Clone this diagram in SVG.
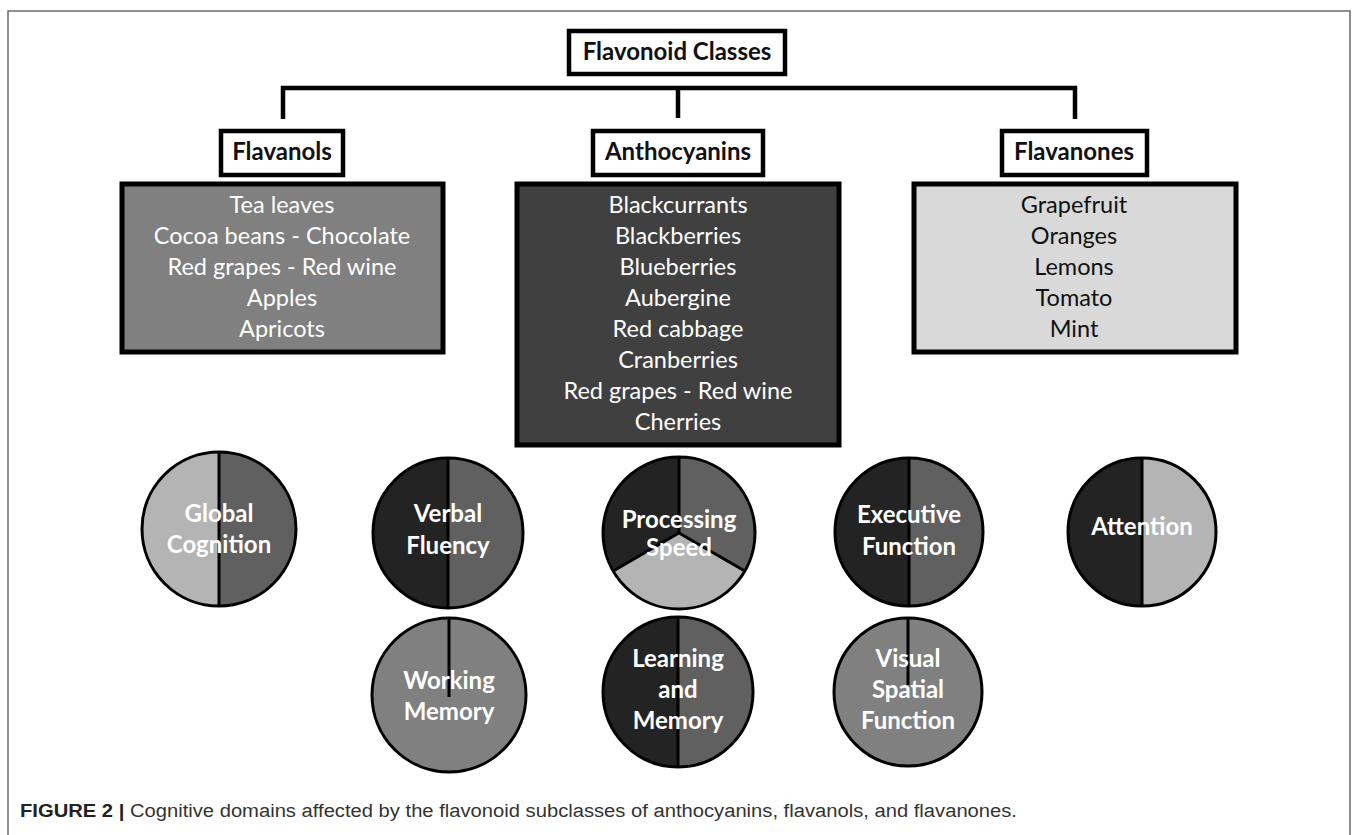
<svg xmlns="http://www.w3.org/2000/svg" width="1358" height="835" viewBox="0 0 1358 835">
<style>
.frame{fill:none;stroke:#6b6b6b;stroke-width:1.5}
.conn{fill:none;stroke:#000;stroke-width:4.5}
.hdr{fill:#fff;stroke:#000;stroke-width:4.5}
.box{stroke:#000;stroke-width:5}
.ht{font-family:Lato,"Open Sans",sans-serif;font-weight:bold;font-size:24px;fill:#111;text-anchor:middle}
.bt{font-family:Lato,"Open Sans",sans-serif;font-size:23.5px;text-anchor:middle}
.ct{font-family:Lato,"Open Sans",sans-serif;font-weight:bold;font-size:24px;fill:#fff;text-anchor:middle}
.seg{stroke:#000;stroke-width:3}
.ring{fill:none;stroke:#000;stroke-width:3}
.dk{fill:#232323}.md{fill:#606060}.lt{fill:#b4b4b4}.gr{fill:#808080}
.cap{font-family:"Liberation Sans Narrow","Liberation Sans",sans-serif;font-size:18px;fill:#333}
</style>
<rect width="1358" height="835" fill="#fff"/>
<path class="frame" d="M8,840 V11 H1350 V840"/>

<g id="connectors">
<path class="conn" d="M283,119 V88 H1075 V119 M678,88 V118"/>
</g>

<g id="flavonoid-classes">
<rect class="hdr" x="569" y="31" width="216" height="43"/>
<text class="ht" x="677" y="60">Flavonoid Classes</text>
</g>

<g id="flavanols">
<rect class="hdr" x="221" y="131" width="122" height="44"/>
<text class="ht" x="282" y="160">Flavanols</text>
</g>
<g id="anthocyanins">
<rect class="hdr" x="593" y="131" width="170" height="44"/>
<text class="ht" x="678" y="160">Anthocyanins</text>
</g>
<g id="flavanones">
<rect class="hdr" x="1002" y="131" width="145" height="44"/>
<text class="ht" x="1074" y="160">Flavanones</text>
</g>

<g id="flavanols-foods">
<rect class="box" x="122" y="184" width="321" height="168" fill="#808080"/>
<g class="bt" fill="#fff">
<text x="282" y="213">Tea leaves</text>
<text x="282" y="244">Cocoa beans - Chocolate</text>
<text x="282" y="275">Red grapes - Red wine</text>
<text x="282" y="306">Apples</text>
<text x="282" y="337">Apricots</text>
</g>
</g>

<g id="anthocyanins-foods">
<rect class="box" x="517" y="184" width="322" height="261" fill="#404040"/>
<g class="bt" fill="#fff">
<text x="678" y="213">Blackcurrants</text>
<text x="678" y="244">Blackberries</text>
<text x="678" y="275">Blueberries</text>
<text x="678" y="306">Aubergine</text>
<text x="678" y="337">Red cabbage</text>
<text x="678" y="368">Cranberries</text>
<text x="678" y="399">Red grapes - Red wine</text>
<text x="678" y="430">Cherries</text>
</g>
</g>

<g id="flavanones-foods">
<rect class="box" x="914" y="184" width="322" height="168" fill="#d9d9d9"/>
<g class="bt" fill="#111">
<text x="1074" y="213">Grapefruit</text>
<text x="1074" y="244">Oranges</text>
<text x="1074" y="275">Lemons</text>
<text x="1074" y="306">Tomato</text>
<text x="1074" y="337">Mint</text>
</g>
</g>

<g id="global-cognition">
<path class="lt" d="M219,452 A77,77 0 0 0 219,606 Z"/>
<path class="md" d="M219,452 A77,77 0 0 1 219,606 Z"/>
<line class="seg" x1="219" y1="452" x2="219" y2="606"/>
<circle class="ring" cx="219" cy="529" r="77"/>
<text class="ct" x="219" y="522">Global</text>
<text class="ct" x="219" y="553">Cognition</text>
</g>

<g id="verbal-fluency">
<path class="dk" d="M448,458 A75,75 0 0 0 448,608 Z"/>
<path class="md" d="M448,458 A75,75 0 0 1 448,608 Z"/>
<line class="seg" x1="448" y1="458" x2="448" y2="608"/>
<circle class="ring" cx="448" cy="533" r="75"/>
<text class="ct" x="448" y="522">Verbal</text>
<text class="ct" x="448" y="554">Fluency</text>
</g>

<g id="processing-speed">
<path class="dk" d="M679,533 L679,457 A76,76 0 0 0 613.2,571 Z"/>
<path class="md" d="M679,533 L679,457 A76,76 0 0 1 744.8,571 Z"/>
<path class="lt" d="M679,533 L613.2,571 A76,76 0 0 0 744.8,571 Z"/>
<path class="seg" fill="none" d="M679,457 V533 L613.2,571 M679,533 L744.8,571"/>
<circle class="ring" cx="679" cy="533" r="76"/>
<text class="ct" x="679" y="528">Processing</text>
<text class="ct" x="679" y="556">Speed</text>
</g>

<g id="executive-function">
<path class="dk" d="M909,458 A74,74 0 0 0 909,606 Z"/>
<path class="md" d="M909,458 A74,74 0 0 1 909,606 Z"/>
<line class="seg" x1="909" y1="458" x2="909" y2="606"/>
<circle class="ring" cx="909" cy="532" r="74"/>
<text class="ct" x="909" y="523">Executive</text>
<text class="ct" x="909" y="555">Function</text>
</g>

<g id="attention">
<path class="dk" d="M1142,458 A74,74 0 0 0 1142,606 Z"/>
<path class="lt" d="M1142,458 A74,74 0 0 1 1142,606 Z"/>
<line class="seg" x1="1142" y1="458" x2="1142" y2="606"/>
<circle class="ring" cx="1142" cy="532" r="74"/>
<text class="ct" x="1142" y="535">Attention</text>
</g>

<g id="working-memory">
<circle class="gr" cx="449" cy="695" r="77"/>
<line class="seg" x1="449" y1="618" x2="449" y2="697"/>
<circle class="ring" cx="449" cy="695" r="77"/>
<text class="ct" x="449" y="689">Working</text>
<text class="ct" x="449" y="720">Memory</text>
</g>

<g id="learning-and-memory">
<path class="dk" d="M678,617 A75,75 0 0 0 678,767 Z"/>
<path class="md" d="M678,617 A75,75 0 0 1 678,767 Z"/>
<line class="seg" x1="678" y1="617" x2="678" y2="767"/>
<circle class="ring" cx="678" cy="692" r="75"/>
<text class="ct" x="678" y="667">Learning</text>
<text class="ct" x="678" y="698">and</text>
<text class="ct" x="678" y="729">Memory</text>
</g>

<g id="visual-spatial-function">
<circle class="gr" cx="908" cy="692" r="74"/>
<line class="seg" x1="908" y1="618" x2="908" y2="685"/>
<circle class="ring" cx="908" cy="692" r="74"/>
<text class="ct" x="908" y="667">Visual</text>
<text class="ct" x="908" y="698">Spatial</text>
<text class="ct" x="908" y="729">Function</text>
</g>

<g id="caption">
<text class="cap" x="20" y="817" textLength="997" lengthAdjust="spacingAndGlyphs"><tspan font-weight="bold" fill="#222">FIGURE 2 |</tspan> Cognitive domains affected by the flavonoid subclasses of anthocyanins, flavanols, and flavanones.</text>
</g>
</svg>
